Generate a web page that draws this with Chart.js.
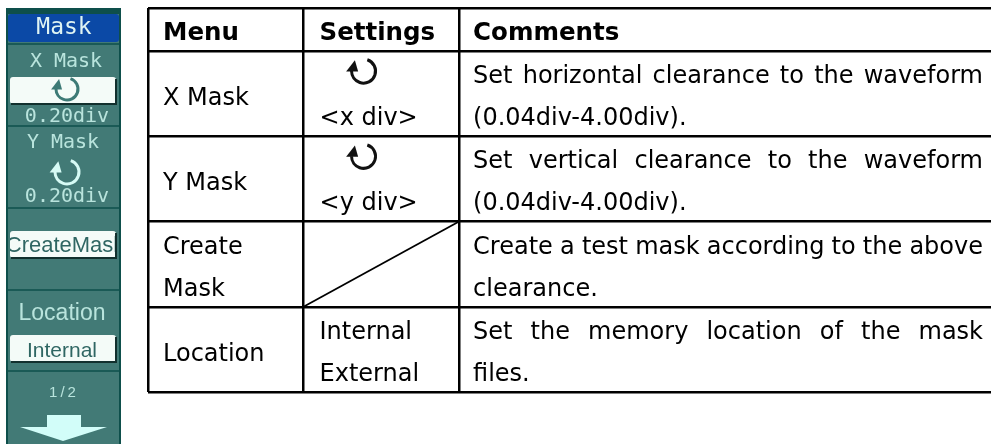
<!DOCTYPE html>
<html>
<head>
<meta charset="utf-8">
<style>
html, body { margin: 0; padding: 0; background: #fff; }
#wrap { width: 991px; height: 444px; position: relative; overflow: hidden; }
</style>
<script src="https://cdn.jsdelivr.net/npm/chart.js@4"></script>
</head>
<body>
<div id="wrap"><canvas id="maskChart" width="991" height="444"></canvas></div>
<script>
// table content
const headers = ['Menu', 'Settings', 'Comments'];
const menuLines = [['X Mask'], ['Y Mask'], ['Create', 'Mask'], ['Location']];
const settingLines = [['@', '<x div>'], ['@', '<y div>'], [], ['Internal', 'External']];
const commentLines = [
    ['Set horizontal clearance to the waveform', '(0.04div-4.00div).'],
    ['Set vertical clearance to the waveform', '(0.04div-4.00div).'],
    ['Create a test mask according to the above', 'clearance.'],
    ['Set the memory location of the mask', 'files.']
];
// table grid in column / row units
const colEdges = [0, 1, 2];
const rowEdges = [0, 0.506, 1.506, 2.506, 3.506, 4.506];
const slashX = [1, 2];
const slashY = [3.506, 2.506];

// oscilloscope side menu
const menuTitle = 'Mask';
const softLabels = ['X Mask', 'Y Mask', 'Location'];
const softValues = ['0.20div', '0.20div'];
const createLabel = 'CreateMasl';
const locationValue = 'Internal';
const pageLabel = '1/2';

const TABLE_FONT = '"DejaVu Sans"';
const BOLD_HEAD = 'bold 24.5px ' + TABLE_FONT;
const BODY = '24px ' + TABLE_FONT;

function knob(c, x, y, r, color, lw) {
    c.strokeStyle = color;
    c.fillStyle = color;
    c.lineWidth = lw;
    c.beginPath();
    c.arc(x, y, r, -1.25, Math.PI, false);
    c.stroke();
    c.beginPath();
    c.moveTo(x - r * 0.72, y - r * 0.9);
    c.lineTo(x - r * 1.45, y + 0.5);
    c.lineTo(x - r * 0.45, y + 0.5);
    c.closePath();
    c.fill();
}

function softButton(c, x, y, w, h) {
    c.fillStyle = '#f4fbf8';
    c.beginPath();
    c.roundRect(x, y, w, h, 3);
    c.fill();
    c.strokeStyle = '#12302e';
    c.lineWidth = 2;
    c.beginPath();
    c.moveTo(x + 1, y + h);
    c.lineTo(x + w, y + h);
    c.lineTo(x + w, y + 2);
    c.stroke();
}

function drawPanel(c) {
    c.save();
    c.filter = 'blur(0.6px)';
    c.fillStyle = '#0e4f4b';
    c.fillRect(6, 8, 115, 436);
    c.fillStyle = '#427a76';
    c.fillRect(8, 14, 111, 430);
    c.fillStyle = '#0b49a6';
    c.beginPath();
    c.roundRect(8, 14, 111, 28, 3);
    c.fill();
    c.fillStyle = '#1a5a56';
    [43, 125, 207, 289, 370].forEach(y => c.fillRect(8, y, 111, 2));

    softButton(c, 10, 77, 106, 27);
    softButton(c, 10, 231, 106, 27);
    softButton(c, 10, 335, 106, 27);
    knob(c, 67, 89, 11, '#3d7a76', 3);
    knob(c, 67, 172, 12, '#d6fbf5', 3);

    c.textAlign = 'center';
    c.textBaseline = 'alphabetic';
    c.fillStyle = '#dff4f3';
    c.font = '23px "DejaVu Sans Mono"';
    c.fillText(menuTitle, 64, 34);
    c.fillStyle = '#b9e4dd';
    c.font = '20px "DejaVu Sans Mono"';
    c.fillText(softLabels[0], 66, 67);
    c.fillText(softLabels[1], 63, 148);
    c.fillText(softValues[0], 67, 122);
    c.fillText(softValues[1], 67, 202);
    c.font = '23px "Liberation Sans"';
    c.fillText(softLabels[2], 62, 320);
    c.font = '15px "Liberation Sans"';
    c.letterSpacing = '3px';
    c.fillText(pageLabel, 64, 397);
    c.letterSpacing = '0px';
    c.fillStyle = '#2f6663';
    c.font = '21px "Liberation Sans"';
    c.fillText(locationValue, 62, 357);
    c.save();
    c.beginPath();
    c.rect(10, 231, 105, 27);
    c.clip();
    c.font = '22px "Liberation Sans"';
    c.fillText(createLabel, 62, 252);
    c.restore();

    // page-down arrow
    c.fillStyle = '#d2fdf9';
    c.fillRect(47, 415, 34, 13);
    c.beginPath();
    c.moveTo(20, 427);
    c.lineTo(107, 427);
    c.lineTo(63, 441);
    c.closePath();
    c.fill();
    c.restore();
}

const tableText = {
    id: 'tableText',
    afterDraw(chart) {
        const c = chart.ctx;
        const x = chart.scales.x;
        const y = chart.scales.y;
        const colX = [x.getPixelForValue(0) + 15, x.getPixelForValue(1) + 16, x.getPixelForValue(2) + 14];
        const right = 983;
        c.save();
        c.fillStyle = '#000';
        c.textAlign = 'left';
        c.textBaseline = 'alphabetic';
        c.font = BOLD_HEAD;
        headers.forEach((h, i) => c.fillText(h, colX[i], 40));
        c.font = BODY;
        menuLines.forEach((lines, r) => {
            const top = y.getPixelForValue(rowEdges[r + 1]);
            if (lines.length === 1) c.fillText(lines[0], colX[0], top + 54);
            else lines.forEach((t, k) => c.fillText(t, colX[0], top + 32 + k * 42));
        });
        settingLines.forEach((lines, r) => {
            const top = y.getPixelForValue(rowEdges[r + 1]);
            lines.forEach((t, k) => {
                if (t === '@') {
                    knob(c, x.getPixelForValue(1) + 60, top + 20, 12, '#111', 3);
                    c.fillStyle = '#000';
                } else {
                    c.fillText(t, colX[1], top + 32 + k * 42);
                }
            });
        });
        commentLines.forEach((lines, r) => {
            const top = y.getPixelForValue(rowEdges[r + 1]);
            lines.forEach((t, k) => {
                c.wordSpacing = '0px';
                if (k === 0) {
                    const spaces = t.split(' ').length - 1;
                    const extra = (right - colX[2] - c.measureText(t).width) / spaces;
                    c.wordSpacing = extra + 'px';
                }
                c.fillText(t, colX[2], top + 32 + k * 42);
            });
        });
        c.restore();
        drawPanel(c);
    }
};

new Chart(document.getElementById('maskChart'), {
    type: 'scatter',
    data: {
        datasets: [{
            data: slashX.map((v, i) => ({ x: v, y: slashY[i] })),
            showLine: true,
            borderColor: '#000',
            borderWidth: 1.8,
            pointRadius: 0
        }]
    },
    options: {
        responsive: false,
        animation: false,
        events: [],
        layout: { padding: { left: 148, top: 8, right: 0, bottom: 52 } },
        plugins: { legend: { display: false }, tooltip: { enabled: false } },
        scales: {
            x: {
                type: 'linear',
                min: 0,
                max: 5.42,
                afterBuildTicks: s => { s.ticks = colEdges.map(v => ({ value: v })); },
                ticks: { display: false },
                border: { display: false },
                grid: { color: '#000', lineWidth: 2.5, drawTicks: false }
            },
            y: {
                type: 'linear',
                reverse: true,
                min: 0,
                max: 4.506,
                afterBuildTicks: s => { s.ticks = rowEdges.map(v => ({ value: v })); },
                ticks: { display: false },
                border: { display: false },
                grid: { color: '#000', lineWidth: 2.5, drawTicks: false }
            }
        }
    },
    plugins: [tableText]
});
</script>
</body>
</html>
